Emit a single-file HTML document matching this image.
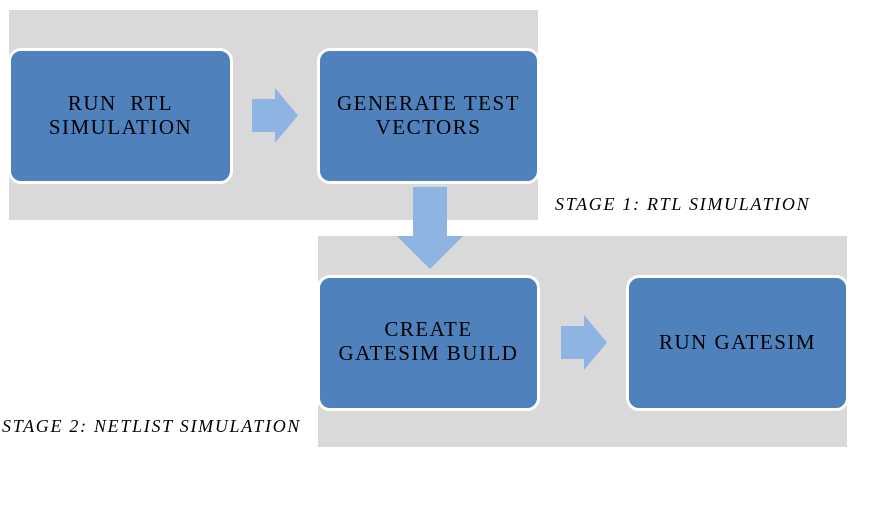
<!DOCTYPE html>
<html><head><style>
body{margin:0;width:889px;height:508px;background:#fff;position:relative;overflow:hidden;font-family:"Liberation Serif",serif}
.g{position:absolute;background:#d9d9d9}
.b{position:absolute;background:#4f81bd;border:3px solid #fff;border-radius:13px;box-sizing:border-box;display:flex;align-items:center;justify-content:center;text-align:center;font-size:21px;line-height:24px;color:#000;letter-spacing:1.5px}
.l{position:absolute;font-style:italic;font-size:18px;color:#000;white-space:nowrap;letter-spacing:1.7px}
</style></head><body>
<div class="g" style="left:9px;top:10px;width:529px;height:210px"></div>
<div class="g" style="left:318px;top:236px;width:529px;height:211px"></div>
<div class="b" style="left:8px;top:48px;width:225px;height:136px;padding-bottom:2px">RUN&nbsp; RTL<br>SIMULATION</div>
<div class="b" style="left:317px;top:48px;width:223px;height:136px;padding-bottom:2px">GENERATE TEST<br>VECTORS</div>
<div class="b" style="left:317px;top:275px;width:223px;height:136px;padding-bottom:4px">CREATE<br>GATESIM BUILD</div>
<div class="b" style="left:626px;top:275px;width:223px;height:136px;padding-bottom:2px">RUN GATESIM</div>
<svg style="position:absolute;left:0;top:0" width="889" height="508">
<polygon points="252,99 275,99 275,88 298,115.5 275,143 275,132 252,132" fill="#8eb4e3"/>
<polygon points="561,326 584,326 584,315 607,342.5 584,370 584,359 561,359" fill="#8eb4e3"/>
<polygon points="413,187 447,187 447,236 463,236 430,269 397,236 413,236" fill="#8eb4e3"/>
</svg>
<div class="l" style="left:555px;top:194px">STAGE 1: RTL SIMULATION</div>
<div class="l" style="left:2px;top:416px">STAGE 2: NETLIST SIMULATION</div>
</body></html>
